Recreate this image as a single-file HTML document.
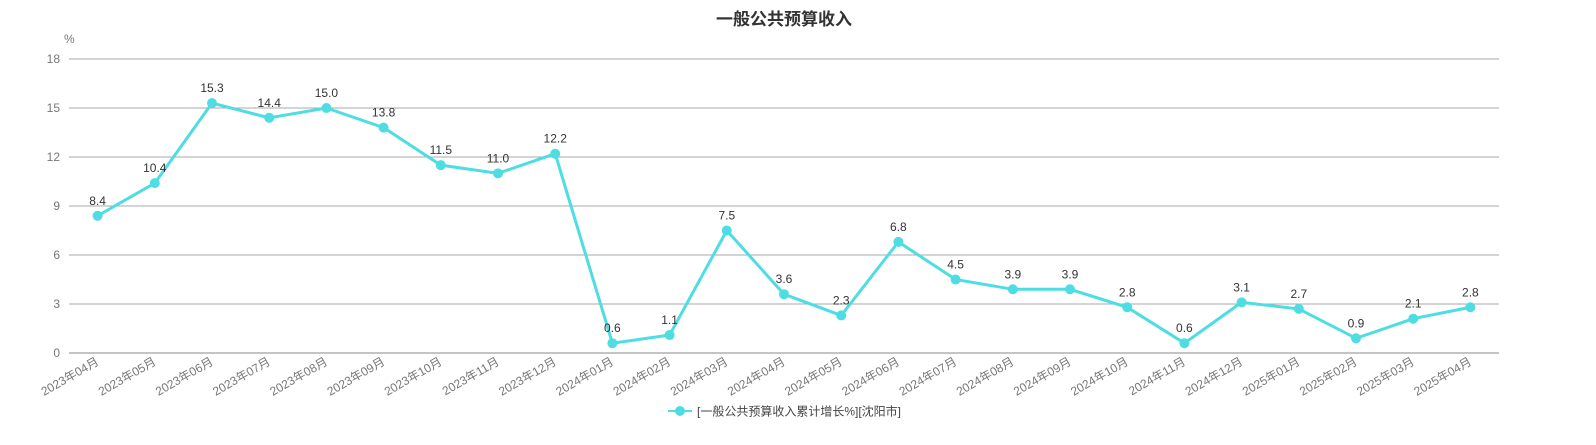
<!DOCTYPE html>
<html><head><meta charset="utf-8"><style>
body{margin:0;background:#fff;font-family:"Liberation Sans","Noto Sans CJK SC",sans-serif;}
svg text{font-family:"Liberation Sans","Noto Sans CJK SC",sans-serif;}
</style></head><body>
<svg id="chart" width="1596" height="440">
<text x="784" y="25" text-anchor="middle" font-size="17" font-weight="bold" fill="#333">一般公共预算收入</text>
<text x="64" y="43" font-size="12" fill="#777">%</text>
<g id="grid"></g><g id="xl"></g><g id="series"></g>
<g>
<line x1="668" y1="411" x2="692" y2="411" stroke="#4ddde3" stroke-width="2"/>
<circle cx="680" cy="411" r="5" fill="#4ddde3"/>
<text x="697" y="415.5" font-size="12" fill="#444">[一般公共预算收入累计增长%][沈阳市]</text>
</g>
</svg>
<script>
const categories=["2023年04月","2023年05月","2023年06月","2023年07月","2023年08月","2023年09月","2023年10月","2023年11月","2023年12月","2024年01月","2024年02月","2024年03月","2024年04月","2024年05月","2024年06月","2024年07月","2024年08月","2024年09月","2024年10月","2024年11月","2024年12月","2025年01月","2025年02月","2025年03月","2025年04月"];
const values=[8.4,10.4,15.3,14.4,15.0,13.8,11.5,11.0,12.2,0.6,1.1,7.5,3.6,2.3,6.8,4.5,3.9,3.9,2.8,0.6,3.1,2.7,0.9,2.1,2.8];
const yTicks=[0,3,6,9,12,15,18];
const NS="http://www.w3.org/2000/svg";
const L=69,R=1499,T=59,B=353,yMax=18;
const bw=(R-L)/categories.length;
const x=i=>L+bw*(i+0.5);
const y=v=>B-(v/yMax)*(B-T);
function mk(tag,attrs,parent){const e=document.createElementNS(NS,tag);for(const k in attrs)e.setAttribute(k,attrs[k]);parent.appendChild(e);return e;}
const grid=document.getElementById('grid');
yTicks.forEach(t=>{
 const ln=mk('line',{x1:L,x2:R,y1:y(t),y2:y(t),stroke:t===0?'#888':'#aaa','stroke-width':1},grid);
 
 
 const tx=mk('text',{x:60,y:y(t)+4,'text-anchor':'end','font-size':12,fill:'#777'},grid);
 tx.textContent=t;
 
 
});
const xl=document.getElementById('xl');
categories.forEach((c,i)=>{
 const tx=mk('text',{x:x(i)+2,y:364,'text-anchor':'end','font-size':12,fill:'#777',transform:`rotate(-30 ${x(i)+2} 364)`},xl);
 tx.textContent=c;
 
 
});
const s=document.getElementById('series');
const pl=mk('polyline',{points:values.map((v,i)=>x(i)+','+y(v)).join(' '),fill:'none',stroke:'#4ddde3','stroke-width':3},s);


values.forEach((v,i)=>{
 const c=mk('circle',{cx:x(i),cy:y(v),r:5,fill:'#4ddde3'},s);
 
 
 const t=mk('text',{x:x(i),y:y(v)-11,'text-anchor':'middle','font-size':12,fill:'#333'},s);
 t.textContent=v.toFixed(1);
 
 
});
</script>
</body></html>
